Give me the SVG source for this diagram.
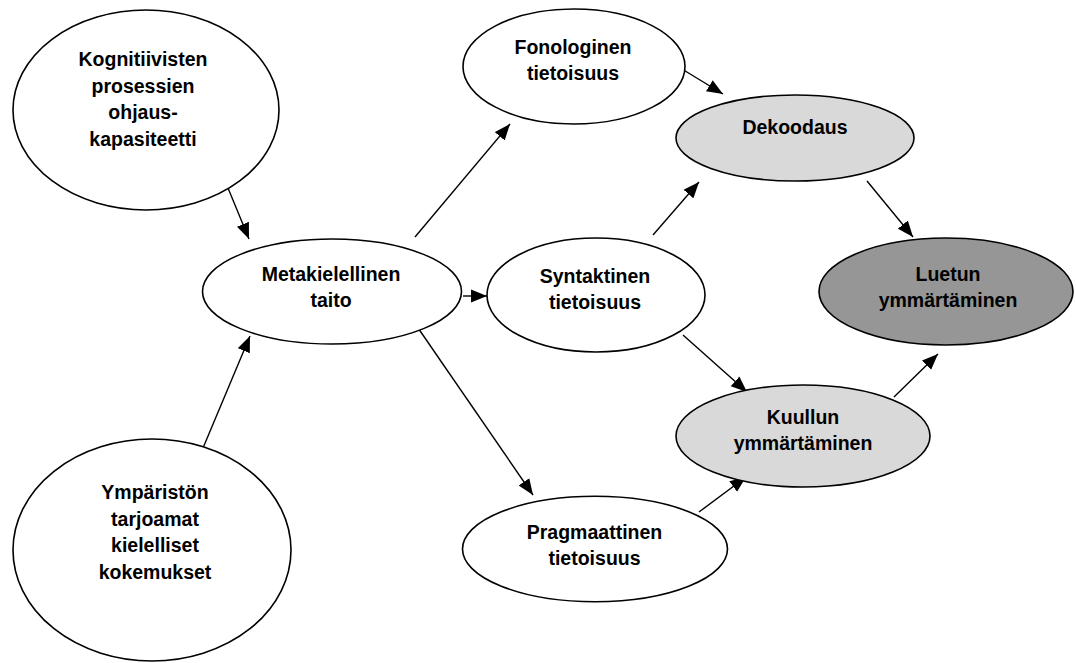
<svg xmlns="http://www.w3.org/2000/svg" width="1076" height="663" viewBox="0 0 1076 663">
<style>
.n ellipse{stroke:#000;stroke-width:1.6;fill:#fff}
.n.light ellipse{fill:#d9d9d9}
.n.dark ellipse{fill:#969696}
.n text{font-family:"Liberation Sans",Arial,sans-serif;font-weight:bold;font-size:19.5px;fill:#000;text-anchor:middle}
.c line{stroke:#000;stroke-width:1.4;marker-end:url(#ah)}
</style>
<defs>
<marker id="ah" markerUnits="userSpaceOnUse" markerWidth="17" markerHeight="14" viewBox="0 0 17 14" refX="16" refY="7" orient="auto">
<path d="M0,0.5 L16,7 L0,13.5 z" fill="#000"/>
</marker>
</defs>
<rect width="1076" height="663" fill="#fff"/>
<g id="connectors" class="c">
<line x1="228" y1="188" x2="249" y2="239"/>
<line x1="203" y1="448" x2="250" y2="336"/>
<line x1="415" y1="237" x2="510" y2="124"/>
<line x1="463" y1="296" x2="487" y2="296"/>
<line x1="416" y1="325" x2="533" y2="495"/>
<line x1="677" y1="66" x2="723" y2="94"/>
<line x1="653" y1="235" x2="699" y2="182"/>
<line x1="867" y1="181" x2="913" y2="237"/>
<line x1="683" y1="335" x2="747" y2="392"/>
<line x1="894" y1="397" x2="938" y2="354"/>
<line x1="699" y1="512" x2="746" y2="477"/>
</g>
<g id="kognitiivisten" class="n">
<ellipse cx="146" cy="110" rx="133" ry="100"/>
<text x="143" y="66">Kognitiivisten</text>
<text x="143" y="92.5">prosessien</text>
<text x="143" y="119">ohjaus-</text>
<text x="143" y="145.5">kapasiteetti</text>
</g>
<g id="ymparisto" class="n">
<ellipse cx="152" cy="550" rx="139" ry="111"/>
<text x="155" y="499">Ympäristön</text>
<text x="155" y="525.5">tarjoamat</text>
<text x="155" y="552">kielelliset</text>
<text x="155" y="578.5">kokemukset</text>
</g>
<g id="metakielellinen" class="n">
<ellipse cx="332" cy="291.5" rx="129.5" ry="52.5"/>
<text x="331" y="281">Metakielellinen</text>
<text x="331" y="307">taito</text>
</g>
<g id="fonologinen" class="n">
<ellipse cx="574" cy="66.5" rx="111" ry="57.5"/>
<text x="573" y="54">Fonologinen</text>
<text x="573" y="80">tietoisuus</text>
</g>
<g id="syntaktinen" class="n">
<ellipse cx="596" cy="295" rx="109" ry="57"/>
<text x="595" y="283">Syntaktinen</text>
<text x="595" y="309">tietoisuus</text>
</g>
<g id="pragmaattinen" class="n">
<ellipse cx="595" cy="549" rx="132.5" ry="52.7"/>
<text x="594.5" y="539">Pragmaattinen</text>
<text x="594.5" y="565">tietoisuus</text>
</g>
<g id="dekoodaus" class="n light">
<ellipse cx="795" cy="138" rx="119" ry="43"/>
<text x="795" y="134">Dekoodaus</text>
</g>
<g id="kuullun" class="n light">
<ellipse cx="803" cy="436" rx="127" ry="51"/>
<text x="803" y="424">Kuullun</text>
<text x="803" y="450">ymmärtäminen</text>
</g>
<g id="luetun" class="n dark">
<ellipse cx="946" cy="291.5" rx="127" ry="53.5"/>
<text x="948" y="281">Luetun</text>
<text x="948" y="307">ymmärtäminen</text>
</g>
</svg>
